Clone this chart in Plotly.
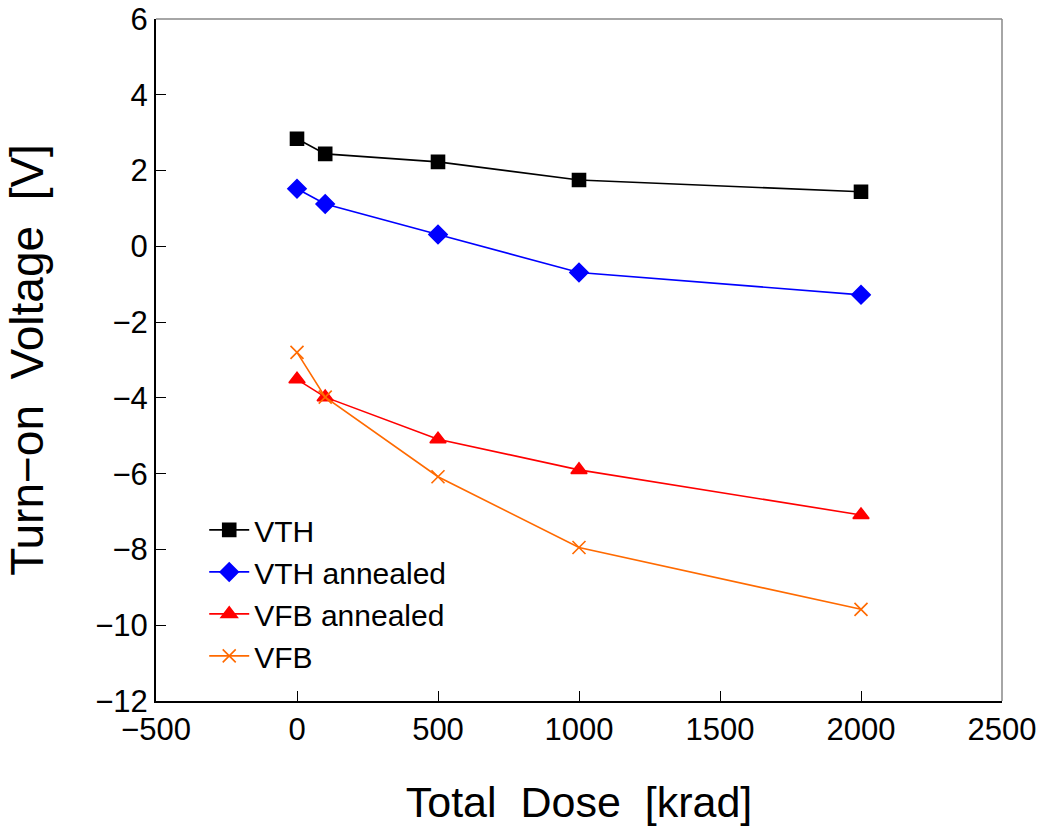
import plotly.graph_objects as go

dose = [0, 100, 500, 1000, 2000]
vth = [2.84, 2.44, 2.23, 1.75, 1.44]
vth_annealed = [1.52, 1.12, 0.31, -0.69, -1.28]
vfb_annealed = [-3.51, -3.98, -5.09, -5.90, -7.09]
vfb = [-2.80, -3.98, -6.08, -7.95, -9.58]

series = [
    ("VTH", vth, "black", "square", 13),
    ("VTH annealed", vth_annealed, "#0000FF", "diamond", 14),
    ("VFB annealed", vfb_annealed, "#FF0000", "triangle-up", 14),
    ("VFB", vfb, "#FF6A00", "x-thin-open", 13),
]

fig = go.Figure()
for name, vals, color, sym, sz in series:
    fig.add_trace(go.Scatter(
        x=dose, y=vals, name=name, mode="lines+markers",
        line=dict(color=color, width=1.6),
        marker=dict(symbol=sym, size=sz, color=color,
                    line=dict(color=color, width=1.6)),
    ))

font = "Liberation Sans, Arial, sans-serif"
fig.update_layout(
    width=1042, height=830,
    margin=dict(l=156, r=40, t=19, b=129),
    paper_bgcolor="white", plot_bgcolor="white",
    font=dict(family=font, color="black", size=30),
    showlegend=True,
    legend=dict(x=0.057, y=0.289, xanchor="left", yanchor="top",
                font=dict(size=30, family=font), bgcolor="rgba(0,0,0,0)",
                tracegroupgap=0, itemwidth=40),
    xaxis=dict(range=[-500, 2500], dtick=500, tick0=0, automargin=False,
               showgrid=False, zeroline=False,
               showline=True, linecolor="black", linewidth=2,
               ticks="inside", ticklen=10, tickcolor="black", tickwidth=1,
               tickfont=dict(size=31),
               title=dict(text="Total  Dose  [krad]", font=dict(size=43), standoff=41)),
    yaxis=dict(range=[-12, 6], dtick=2, automargin=False,
               showgrid=False, zeroline=False,
               showline=True, linecolor="black", linewidth=2,
               ticks="inside", ticklen=10, tickcolor="black", tickwidth=1,
               tickfont=dict(size=31),
               title=dict(text="Turn\u2212on  Voltage  [V]", font=dict(size=46), standoff=37)),
)
# grey top/right frame
fig.add_shape(type="line", xref="paper", yref="paper", x0=0, x1=1, y0=1, y1=1,
              line=dict(color="#888888", width=1.5))
fig.add_shape(type="line", xref="paper", yref="paper", x0=1, x1=1, y0=0, y1=1,
              line=dict(color="#888888", width=1.5))

fig.write_html("out.html")
